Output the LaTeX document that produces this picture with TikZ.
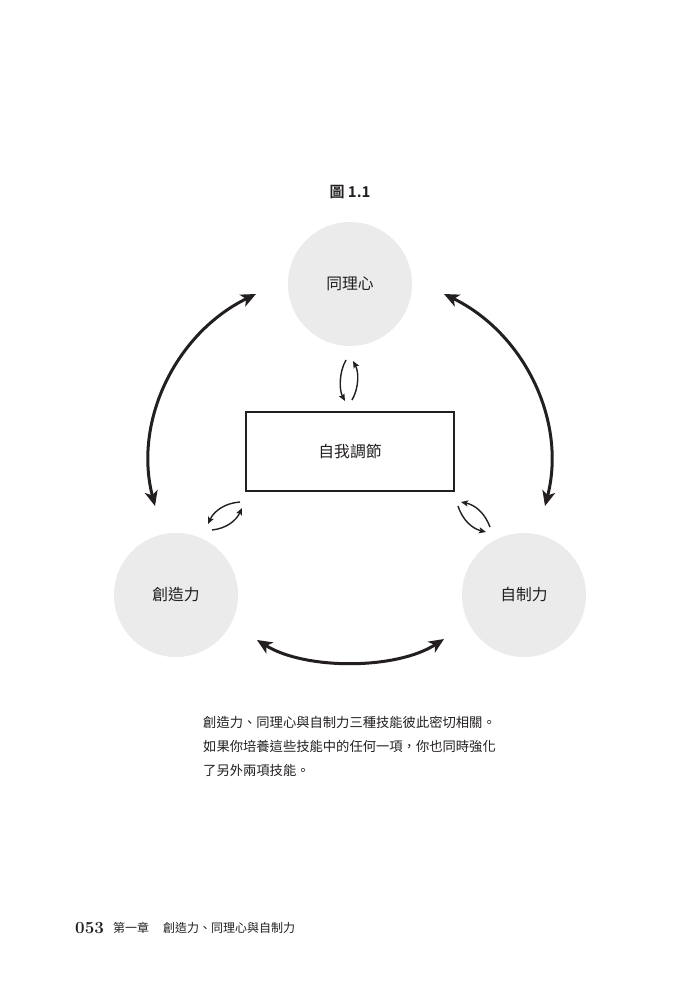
\documentclass[tikz,border=0pt]{standalone}
\usepackage{fontspec}
\usetikzlibrary{arrows.meta}
\newfontfamily\cjk{Noto Sans CJK TC}
\newfontfamily\cjkbold{Noto Sans CJK TC Bold}
\definecolor{circgray}{HTML}{EBEBEB}
\definecolor{ink}{HTML}{231F20}
\begin{document}
\begin{tikzpicture}[x=1pt,y=-1pt,
  circ/.style={circle,fill=circgray,minimum size=124pt,inner sep=0pt,font=\cjk\fontsize{15.8}{15.8}\selectfont,text=ink},
  regbox/.style={draw=ink,line width=1.5pt,minimum width=208pt,minimum height=79pt,inner sep=0pt,font=\cjk\fontsize{15.8}{15.8}\selectfont,text=ink},
  bigarrow/.style={draw=ink,line width=3pt,{Stealth[length=15pt,width=13pt,inset=4pt]}-{Stealth[length=15pt,width=13pt,inset=4pt]}},
  smallarrow/.style={draw=ink,line width=1.4pt,-{Stealth[length=7pt,width=6pt,inset=1.5pt]}},
  txt/.style={font=\cjk\fontsize{13.3}{13.3}\selectfont,text=ink,anchor=west,inner sep=0pt}
]
\useasboundingbox[fill=white] (0,0) rectangle (700,993);

% title
\node[font=\cjkbold\fontsize{15}{15}\selectfont,text=ink] (title) at (350,192) {圖 1.1};

% circles and box
\node[circ] (emp) at (350,284) {同理心};
\node[circ] (cre) at (176,595) {創造力};
\node[circ] (sel) at (524,595) {自制力};
\node[regbox] (reg) at (350,451.5) {自我調節};

% big arrow endpoints
\coordinate (L1) at (256,294);
\coordinate (L2) at (155,506);
\coordinate (R1) at (444,294);
\coordinate (R2) at (545,506);
\coordinate (B1) at (257,640);
\coordinate (B2) at (444,639);

\draw[bigarrow] (L1) .. controls (176,333) and (133,421) .. (L2);
\draw[bigarrow] (R1) .. controls (524,333) and (567,421) .. (R2);
\draw[bigarrow] (B1) .. controls (305,670) and (396,670) .. (B2);

% small arrows: top
\coordinate (t1s) at (346,360);
\coordinate (t1e) at (345,401);
\coordinate (t2s) at (352,400);
\coordinate (t2e) at (353,361);
\draw[smallarrow] (t1s) .. controls (339,372) and (339,390) .. (t1e);
\draw[smallarrow] (t2s) .. controls (359,388) and (359,372) .. (t2e);

% small arrows: left
\coordinate (l1s) at (240,502);
\coordinate (l1e) at (208,524);
\coordinate (l2s) at (212,530);
\coordinate (l2e) at (242,508);
\draw[smallarrow] (l1s) .. controls (225,503) and (214,511) .. (l1e);
\draw[smallarrow] (l2s) .. controls (226,528.5) and (236,521) .. (l2e);

% small arrows: right
\coordinate (r1s) at (490,527);
\coordinate (r1e) at (461,502);
\coordinate (r2s) at (458,506);
\coordinate (r2e) at (486,532);
\draw[smallarrow] (r1s) .. controls (485,513.5) and (475.5,505) .. (r1e);
\draw[smallarrow] (r2s) .. controls (462.5,520) and (472,528.5) .. (r2e);

% caption
\node[txt] (cap1) at (203,722) {創造力、同理心與自制力三種技能彼此密切相關。};
\node[txt] (cap2) at (203,746) {如果你培養這些技能中的任何一項，你也同時強化};
\node[txt] (cap3) at (203,770) {了另外兩項技能。};

% footer
\node[anchor=west,inner sep=0pt,font=\fontsize{17}{17}\selectfont\bfseries,text=ink] (pg) at (75,928) {053};
\node[anchor=west,inner sep=0pt,font=\cjk\fontsize{12}{12}\selectfont,text=ink] (ch) at (113,928) {第一章};
\node[anchor=west,inner sep=0pt,font=\cjk\fontsize{12}{12}\selectfont,text=ink] (chtitle) at (163,928) {創造力、同理心與自制力};
\end{tikzpicture}
\end{document}
